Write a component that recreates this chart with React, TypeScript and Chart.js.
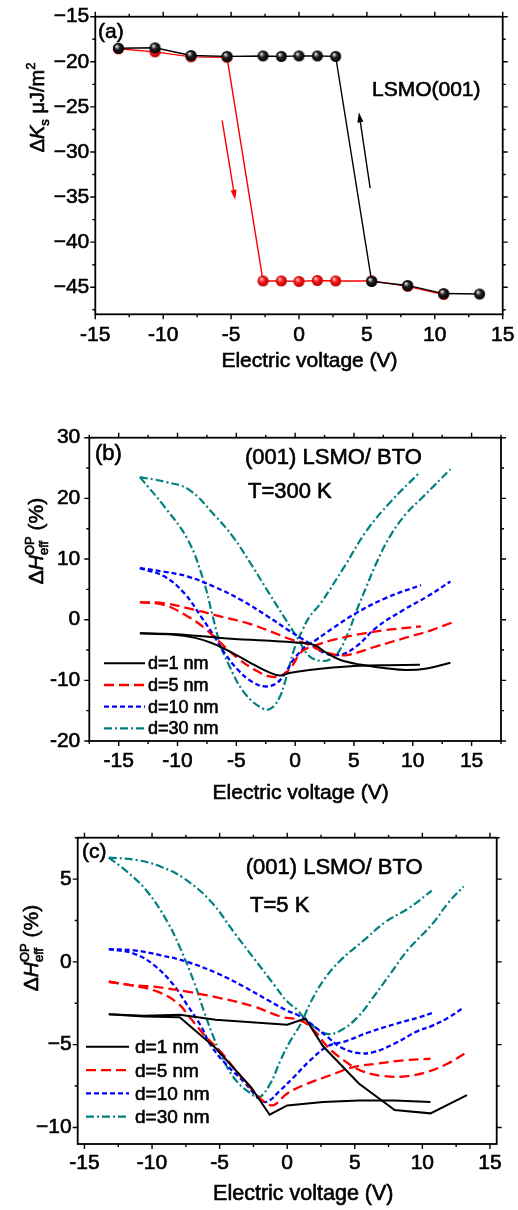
import React, { useEffect, useRef } from 'react';
import { Chart, registerables } from 'chart.js';

Chart.register(...registerables);

const FONT = '"Liberation Sans", Arial, Helvetica, sans-serif';
const W = 518;
const TEXT_STROKE = 0.6;

type Pt = [number, number];

// ---------------- Panel (a): LSMO(001) ----------------
const A_X_TICKS = [-15, -10, -5, 0, 5, 10, 15];
const A_Y_TICKS = [-45, -40, -35, -30, -25, -20, -15];
const A_VOLT_BLACK = [-13.3, -10.6, -7.95, -5.3, -2.65, -1.3, 0, 1.35, 2.7, 5.35, 8.0, 10.65, 13.3];
const A_KS_BLACK = [-18.5, -18.45, -19.3, -19.4, -19.35, -19.4, -19.35, -19.35, -19.4, -44.35, -44.8, -45.7, -45.75];
const A_VOLT_RED = [-13.3, -10.6, -7.95, -5.3, -2.65, -1.3, 0, 1.35, 2.7, 5.35, 8.0, 10.65];
const A_KS_RED = [-18.55, -18.9, -19.45, -19.5, -44.3, -44.3, -44.35, -44.25, -44.3, -44.3, -44.9, -45.8];

// ---------------- Panel (b): T = 300 K ----------------
const B_X_TICKS = [-15, -10, -5, 0, 5, 10, 15];
const B_Y_TICKS = [-20, -10, 0, 10, 20, 30];
const B_D1_A: Pt[] = [[-13.2, -2.25], [-10.5, -2.45], [-8.5, -3.0], [-7.1, -3.85], [-5.7, -5.1], [-4.0, -6.9], [-2.3, -8.6], [-1.3, -9.2], [-0.5, -8.8], [1.2, -8.3], [3.2, -7.9], [5.5, -7.6], [7.8, -7.5], [10.6, -7.45]];
const B_D1_B: Pt[] = [[-13.2, -2.25], [-10.5, -2.35], [-6.3, -3.0], [-2.6, -3.45], [0, -3.75], [1.6, -4.15], [2.6, -5.4], [3.8, -6.6], [5.5, -7.4], [7.7, -8.0], [9.4, -8.3], [11.2, -8.05], [13.2, -7.1]];
const B_D5_A: Pt[] = [[-13.2, 2.9], [-11.1, 2.4], [-9.1, 0.5], [-7.7, -1.4], [-6.3, -3.9], [-4.85, -6.4], [-3.4, -8.3], [-2.1, -9.4], [-1.15, -9.2], [-0.4, -8.0], [0.6, -5.2], [1.8, -4.2], [3.3, -3.3], [6.0, -2.2], [7.75, -1.7], [10.7, -1.1]];
const B_D5_B: Pt[] = [[-13.2, 2.9], [-11.1, 2.7], [-8.5, 1.6], [-6.3, 0.5], [-4.0, -0.6], [-2.0, -2.0], [-0.3, -3.3], [0.9, -3.9], [2.3, -5.2], [3.5, -5.8], [4.5, -5.8], [6.9, -4.4], [9.7, -2.8], [11.5, -1.8], [13.3, -0.5]];
const B_D10_A: Pt[] = [[-13.2, 8.5], [-11.1, 7.1], [-9.4, 4.3], [-8.0, 0.5], [-6.85, -2.8], [-6.0, -5.5], [-4.85, -8.3], [-3.7, -10.2], [-2.6, -11.0], [-1.6, -10.5], [-0.85, -8.8], [-0.15, -6.6], [0.9, -4.4], [1.8, -3.3], [3.2, -1.4], [5.2, 1.1], [7.75, 3.6], [10.7, 5.7]];
const B_D10_B: Pt[] = [[-13.2, 8.5], [-11.1, 7.9], [-9.1, 7.1], [-6.85, 5.4], [-4.55, 3.2], [-2.3, 0.5], [-0.6, -1.7], [1.2, -3.9], [2.5, -5.5], [3.8, -5.8], [5.2, -4.4], [6.9, -1.3], [9.2, 1.6], [11.3, 3.9], [13.2, 6.3]];
const B_D30_A: Pt[] = [[-13.2, 23.5], [-11.1, 18.6], [-9.1, 13.1], [-7.8, 6.5], [-7.0, 0.5], [-6.4, -3.9], [-5.7, -7.2], [-4.3, -12.1], [-2.6, -14.8], [-1.9, -14.4], [-1.3, -12.7], [-0.9, -10.5], [-0.5, -7.7], [0, -4.4], [0.6, -1.8], [1.2, 0.4], [2.2, 2.8], [4.2, 8.8], [6.05, 14.6], [8.1, 19.4], [10.6, 24.3]];
const B_D30_B: Pt[] = [[-13.2, 23.5], [-11.0, 22.7], [-9.0, 21.4], [-6.75, 17.0], [-5.3, 13.7], [-3.6, 8.7], [-2.2, 4.3], [-0.8, 0], [0.2, -3.0], [1.2, -6.0], [2.3, -6.8], [3.2, -6.3], [3.8, -5.0], [4.6, -1.7], [5.2, 1.4], [6.05, 5.4], [6.9, 9.3], [8.05, 13.7], [9.45, 17.5], [10.9, 20.3], [13.2, 24.8]];

// ---------------- Panel (c): T = 5 K ----------------
const C_X_TICKS = [-15, -10, -5, 0, 5, 10, 15];
const C_Y_TICKS = [-10, -5, 0, 5];
const C_D1_A: Pt[] = [[-13.2, -3.16], [-10.6, -3.3], [-7.95, -3.35], [-5.3, -5.2], [-2.65, -7.6], [-1.3, -9.23], [0, -8.67], [2.65, -8.47], [5.3, -8.37], [7.95, -8.37], [10.6, -8.47]];
const C_D1_B: Pt[] = [[-13.2, -3.16], [-10.6, -3.25], [-7.95, -3.2], [-5.3, -3.5], [-2.65, -3.65], [0, -3.8], [1.35, -3.42], [2.65, -5.1], [5.3, -7.35], [7.95, -8.95], [10.6, -9.15], [13.3, -8.05]];
const C_D5_A: Pt[] = [[-13.2, -1.2], [-11.6, -1.4], [-9.6, -1.8], [-8.1, -2.5], [-7.15, -3.4], [-6.15, -4.4], [-4.9, -5.45], [-3.7, -6.65], [-2.45, -7.85], [-1.7, -8.45], [-1.0, -8.65], [0, -7.95], [1.5, -7.35], [3.2, -6.85], [4.9, -6.35], [6.65, -6.15], [8.6, -5.95], [10.6, -5.85]];
const C_D5_B: Pt[] = [[-13.2, -1.2], [-11.6, -1.4], [-9.85, -1.5], [-7.4, -1.8], [-4.9, -2.2], [-2.45, -2.7], [-0.5, -3.3], [1.0, -3.55], [2.0, -4.15], [3.0, -5.15], [4.2, -5.95], [5.4, -6.55], [7.15, -6.9], [8.9, -6.9], [10.35, -6.65], [11.85, -6.15], [13.3, -5.45]];
const C_D10_A: Pt[] = [[-13.2, 0.77], [-11.35, 0.5], [-9.85, -0.2], [-8.4, -1.4], [-7.4, -2.6], [-6.4, -3.85], [-5.65, -5.05], [-4.45, -6.25], [-3.2, -7.25], [-2.1, -8.25], [-1.5, -8.45], [-0.5, -7.75], [0.5, -6.95], [1.7, -5.95], [3.0, -5.1], [4.3, -4.8], [6.05, -4.25], [8.0, -3.75], [9.75, -3.35], [10.7, -3.1]];
const C_D10_B: Pt[] = [[-13.2, 0.77], [-11.35, 0.7], [-9.35, 0.4], [-7.4, 0], [-5.15, -0.7], [-3.2, -1.5], [-1.45, -2.3], [0, -2.95], [0.75, -3.2], [1.7, -3.7], [3.0, -4.55], [3.95, -5.15], [5.2, -5.5], [6.4, -5.45], [7.9, -4.95], [9.6, -4.2], [10.75, -3.85], [11.95, -3.35], [13.0, -2.8]];
const C_D30_A: Pt[] = [[-13.2, 6.3], [-11.85, 5.45], [-10.35, 4.25], [-8.85, 2.4], [-7.9, 0.8], [-6.9, -1.2], [-6.15, -3.0], [-5.4, -4.65], [-4.65, -6.05], [-3.7, -7.25], [-2.7, -7.95], [-2.1, -8.2], [-1.25, -7.35], [-0.5, -5.95], [0.25, -4.75], [1.0, -3.75], [1.7, -2.5], [2.7, -1.1], [3.95, 0.1], [5.6, 1.25], [7.25, 2.4], [9.0, 3.25], [10.7, 4.3]];
const C_D30_B: Pt[] = [[-13.2, 6.3], [-11.1, 6.15], [-9.35, 5.75], [-7.65, 5.05], [-5.65, 3.65], [-3.95, 1.8], [-2.45, 0.2], [-0.95, -1.4], [0, -2.4], [0.75, -2.9], [1.2, -3.35], [1.95, -3.9], [2.95, -4.35], [3.95, -4.15], [5.2, -3.35], [6.4, -2.1], [7.65, -0.7], [8.9, 0.7], [10.75, 2.3], [11.95, 3.6], [13.05, 4.55]];

const LEGEND_LABELS = ['d=1 nm', 'd=5 nm', 'd=10 nm', 'd=30 nm'];
const STYLES = [
  { color: '#000000', width: 2, dash: [] as number[] },
  { color: '#ff0000', width: 2.3, dash: [10, 5] },
  { color: '#0000ff', width: 2.3, dash: [5, 3] },
  { color: '#008080', width: 2.2, dash: [8, 3, 2, 3] },
];

type Seg = { t: string; s: number; i?: boolean; dy?: number; stack?: boolean };
type Txt = { t: string; x: number; y: number; s: number; align?: CanvasTextAlign };

interface AxisSpec { min: number; max: number; ticks: number[]; minor: number; pad: number; fmt: (v: number) => string }
interface PanelSpec {
  top: number; height: number;
  area: { left: number; right: number; top: number; bottom: number };
  x: AxisSpec; y: AxisSpec;
  datasets: any[];
  texts: Txt[];
  yTitle: { segs: Seg[]; x: number; y: number };
  legend?: { x0: number; x1: number; xt: number; y0: number; dy: number; s: number; off: number };
  arrows?: { from: Pt; to: Pt; color: string }[];
}

const fmtHy = (v: number) => String(v);
const fmtMinus = (v: number) => (v < 0 ? '\u2212' + Math.abs(v) : String(v));

function sphere(base: string, light: string, dark: string, r: number) {
  const c = document.createElement('canvas');
  const size = Math.ceil(r * 2) + 2;
  c.width = size; c.height = size;
  const g = c.getContext('2d')!;
  const cx = size / 2, cy = size / 2;
  const grad = g.createRadialGradient(cx - r * 0.35, cy - r * 0.4, r * 0.05, cx, cy, r);
  grad.addColorStop(0, light);
  grad.addColorStop(0.45, base);
  grad.addColorStop(1, dark);
  g.fillStyle = grad;
  g.beginPath(); g.arc(cx, cy, r, 0, Math.PI * 2); g.fill();
  return c;
}

const toXY = (pts: Pt[]) => pts.map(([x, y]) => ({ x, y }));

function loopSets(branches: Pt[][][], tensions: number[]) {
  const out: any[] = [];
  branches.forEach((pair, i) => {
    const st = STYLES[i];
    pair.forEach((pts) => {
      out.push({
        data: toXY(pts), showLine: true, borderColor: st.color, borderWidth: st.width,
        borderDash: st.dash, pointRadius: 0, tension: tensions[i], fill: false,
      });
    });
  });
  return out;
}

function fillStroke(ctx: CanvasRenderingContext2D, t: string, x: number, y: number) {
  ctx.fillText(t, x, y);
  ctx.lineWidth = TEXT_STROKE;
  ctx.strokeStyle = ctx.fillStyle as string;
  ctx.strokeText(t, x, y);
}

function drawRich(ctx: CanvasRenderingContext2D, segs: Seg[], bx: number, cy: number) {
  const items: { sg: Seg; x: number }[] = [];
  let x = 0; let stackW = 0;
  for (const sg of segs) {
    ctx.font = `${sg.i ? 'italic ' : ''}${sg.s}px ${FONT}`;
    const w = ctx.measureText(sg.t).width;
    items.push({ sg, x });
    if (sg.stack) stackW = w; else { x += Math.max(w, stackW); stackW = 0; }
  }
  const total = x;
  ctx.save();
  ctx.translate(bx, cy);
  ctx.rotate(-Math.PI / 2);
  ctx.textAlign = 'left';
  ctx.textBaseline = 'alphabetic';
  ctx.fillStyle = '#000';
  for (const it of items) {
    ctx.font = `${it.sg.i ? 'italic ' : ''}${it.sg.s}px ${FONT}`;
    fillStroke(ctx, it.sg.t, it.x - total / 2, it.sg.dy || 0);
  }
  ctx.restore();
}

function build(canvas: HTMLCanvasElement, p: PanelSpec) {
  const frame = {
    id: 'frame',
    afterDraw(chart: any) {
      const ctx: CanvasRenderingContext2D = chart.ctx;
      const a = chart.chartArea;
      const xs = chart.scales.x, ys = chart.scales.y;
      ctx.save();
      // arrows
      (p.arrows || []).forEach((ar) => {
        const x0 = xs.getPixelForValue(ar.from[0]), y0 = ys.getPixelForValue(ar.from[1]);
        const x1 = xs.getPixelForValue(ar.to[0]), y1 = ys.getPixelForValue(ar.to[1]);
        const ang = Math.atan2(y1 - y0, x1 - x0);
        const hl = 10, hw = 3;
        ctx.strokeStyle = ar.color; ctx.fillStyle = ar.color; ctx.lineWidth = 1.4;
        ctx.beginPath(); ctx.moveTo(x0, y0);
        ctx.lineTo(x1 - Math.cos(ang) * hl * 0.8, y1 - Math.sin(ang) * hl * 0.8); ctx.stroke();
        ctx.beginPath(); ctx.moveTo(x1, y1);
        ctx.lineTo(x1 - Math.cos(ang) * hl - Math.sin(ang) * hw, y1 - Math.sin(ang) * hl + Math.cos(ang) * hw);
        ctx.lineTo(x1 - Math.cos(ang) * hl + Math.sin(ang) * hw, y1 - Math.sin(ang) * hl - Math.cos(ang) * hw);
        ctx.closePath(); ctx.fill();
      });
      // frame
      ctx.strokeStyle = '#000'; ctx.lineWidth = 1.8; ctx.setLineDash([]);
      ctx.strokeRect(a.left, a.top, a.right - a.left, a.bottom - a.top);
      ctx.lineWidth = 1.4;
      ctx.beginPath();
      const each = (ax: AxisSpec, cb: (v: number, len: number) => void) => {
        const start = Math.ceil((ax.min - 1e-9) / ax.minor) * ax.minor;
        for (let v = start; v <= ax.max + 1e-9; v += ax.minor) {
          const major = ax.ticks.some((m) => Math.abs(m - v) < 1e-6);
          cb(v, major ? 5 : 3);
        }
      };
      each(p.x, (v, len) => {
        const px = xs.getPixelForValue(v);
        ctx.moveTo(px, a.bottom); ctx.lineTo(px, a.bottom + len);
        ctx.moveTo(px, a.top); ctx.lineTo(px, a.top - len);
      });
      each(p.y, (v, len) => {
        const py = ys.getPixelForValue(v);
        ctx.moveTo(a.left, py); ctx.lineTo(a.left - len, py);
        ctx.moveTo(a.right, py); ctx.lineTo(a.right + len, py);
      });
      ctx.stroke();
      // legend
      if (p.legend) {
        const L = p.legend;
        LEGEND_LABELS.forEach((lab, i) => {
          const st = STYLES[i];
          const yb = L.y0 + i * L.dy;
          ctx.strokeStyle = st.color; ctx.lineWidth = st.width; ctx.setLineDash(st.dash);
          ctx.beginPath(); ctx.moveTo(L.x0, yb - L.off); ctx.lineTo(L.x1, yb - L.off); ctx.stroke();
          ctx.setLineDash([]);
          ctx.fillStyle = '#000'; ctx.font = `${L.s}px ${FONT}`;
          ctx.textAlign = 'left'; ctx.textBaseline = 'alphabetic';
          fillStroke(ctx, lab, L.xt, yb);
        });
      }
      // texts
      ctx.fillStyle = '#000'; ctx.textBaseline = 'alphabetic';
      p.texts.forEach((t) => {
        ctx.font = `${t.s}px ${FONT}`;
        ctx.textAlign = t.align || 'left';
        fillStroke(ctx, t.t, t.x, t.y);
      });
      drawRich(ctx, p.yTitle.segs, p.yTitle.x, p.yTitle.y);
      ctx.restore();
    },
  };

  const tickFont = { family: FONT, size: 21 };
  const tickCommon = { font: tickFont, color: '#000', textStrokeColor: '#000', textStrokeWidth: TEXT_STROKE, autoSkip: false };
  return new Chart(canvas, {
    type: 'scatter',
    data: { datasets: p.datasets },
    options: {
      animation: false,
      responsive: false,
      devicePixelRatio: 1,
      events: [],
      layout: { padding: { left: 0, right: W - p.area.right, top: p.area.top, bottom: 0 } },
      plugins: { legend: { display: false }, tooltip: { enabled: false }, title: { display: false } },
      scales: {
        x: {
          type: 'linear', min: p.x.min, max: p.x.max,
          grid: { display: false, drawTicks: false }, border: { display: false },
          ticks: { ...tickCommon, padding: p.x.pad, maxRotation: 0, callback: (v: any) => p.x.fmt(Number(v)) },
          afterBuildTicks: (s: any) => { s.ticks = p.x.ticks.map((v) => ({ value: v })); },
          afterFit: (s: any) => { s.height = p.height - p.area.bottom; s.paddingLeft = 0; s.paddingRight = 0; },
        },
        y: {
          type: 'linear', min: p.y.min, max: p.y.max,
          grid: { display: false, drawTicks: false }, border: { display: false },
          ticks: { ...tickCommon, padding: p.y.pad, callback: (v: any) => p.y.fmt(Number(v)) },
          afterBuildTicks: (s: any) => { s.ticks = p.y.ticks.map((v) => ({ value: v })); },
          afterFit: (s: any) => { s.width = p.area.left; s.paddingTop = 0; s.paddingBottom = 0; },
        },
      },
    } as any,
    plugins: [frame],
  });
}

function makePanels(): PanelSpec[] {
  const blackBall = sphere('#222222', '#f4f4f4', '#000000', 5.5);
  const redBall = sphere('#ff1a1a', '#ffd0d0', '#b00000', 5.5);
  const panelA: PanelSpec = {
    top: 0, height: 390,
    area: { left: 95.3, right: 502.7, top: 16.7, bottom: 314.3 },
    x: { min: -15, max: 15, ticks: A_X_TICKS, minor: 2.5, pad: 8, fmt: fmtHy },
    y: { min: -48, max: -15, ticks: A_Y_TICKS, minor: 2.5, pad: 6, fmt: fmtMinus },
    datasets: [
      { data: A_VOLT_BLACK.map((x, i) => ({ x, y: A_KS_BLACK[i] })), showLine: true, borderColor: '#000', borderWidth: 1.4, pointStyle: blackBall, pointRadius: 5.5, tension: 0 },
      { data: A_VOLT_RED.map((x, i) => ({ x, y: A_KS_RED[i] })), showLine: true, borderColor: '#ff0000', borderWidth: 1.4, pointStyle: redBall, pointRadius: 5.5, tension: 0 },
    ],
    texts: [
      { t: '(a)', x: 98, y: 38.3, s: 21 },
      { t: 'LSMO(001)', x: 372, y: 96, s: 21 },
      { t: 'Electric voltage (V)', x: 309.5, y: 366.7, s: 21, align: 'center' },
    ],
    yTitle: { x: 44, y: 107.5, segs: [{ t: '\u0394', s: 20 }, { t: 'K', s: 20, i: true }, { t: 's', s: 13, dy: 5 }, { t: ' \u03bcJ/m', s: 20 }, { t: '2', s: 13, dy: -9 }] },
    arrows: [
      { from: [-5.66, -26.5], to: [-4.7, -35.3], color: '#ff0000' },
      { from: [5.24, -34.0], to: [4.41, -25.6], color: '#000000' },
    ],
  };
  const oB = 390;
  const panelB: PanelSpec = {
    top: oB, height: 415,
    area: { left: 89.3, right: 501, top: 437.7 - oB, bottom: 741 - oB },
    x: { min: -17.5, max: 17.5, ticks: B_X_TICKS, minor: 2.5, pad: 8, fmt: fmtHy },
    y: { min: -20, max: 30, ticks: B_Y_TICKS, minor: 5, pad: 9, fmt: fmtHy },
    datasets: loopSets([[B_D1_A, B_D1_B], [B_D5_A, B_D5_B], [B_D10_A, B_D10_B], [B_D30_A, B_D30_B]], [0.4, 0.4, 0.4, 0.4]),
    texts: [
      { t: '(b)', x: 95, y: 460 - oB, s: 22 },
      { t: '(001) LSMO/ BTO', x: 245, y: 463.5 - oB, s: 22 },
      { t: 'T=300 K', x: 248, y: 497.5 - oB, s: 22 },
      { t: 'Electric voltage (V)', x: 300.7, y: 798.5 - oB, s: 21, align: 'center' },
    ],
    yTitle: { x: 43, y: 541 - oB, segs: [{ t: '\u0394', s: 21 }, { t: 'H', s: 21, i: true }, { t: 'eff', s: 13, dy: 5, stack: true }, { t: 'OP', s: 13, dy: -9 }, { t: ' (%)', s: 21 }] },
    legend: { x0: 104, x1: 145, xt: 148, y0: 669.3 - oB, dy: 21.7, s: 18, off: 6 },
  };
  const oC = 805;
  const panelC: PanelSpec = {
    top: oC, height: 405,
    area: { left: 77.7, right: 496.7, top: 837.7 - oC, bottom: 1144 - oC },
    x: { min: -15.5, max: 15.5, ticks: C_X_TICKS, minor: 2.5, pad: 7, fmt: fmtHy },
    y: { min: -11, max: 7.5, ticks: C_Y_TICKS, minor: 2.5, pad: 6, fmt: fmtMinus },
    datasets: loopSets([[C_D1_A, C_D1_B], [C_D5_A, C_D5_B], [C_D10_A, C_D10_B], [C_D30_A, C_D30_B]], [0, 0.4, 0.4, 0.4]),
    texts: [
      { t: '(c)', x: 82, y: 857.5 - oC, s: 21 },
      { t: '(001) LSMO/ BTO', x: 245.7, y: 874 - oC, s: 22 },
      { t: 'T=5 K', x: 250, y: 911.7 - oC, s: 22 },
      { t: 'Electric voltage (V)', x: 303.3, y: 1200 - oC, s: 21.5, align: 'center' },
    ],
    yTitle: { x: 38, y: 948 - oC, segs: [{ t: '\u0394', s: 21 }, { t: 'H', s: 21, i: true }, { t: 'eff', s: 13, dy: 5, stack: true }, { t: 'OP', s: 13, dy: -9 }, { t: ' (%)', s: 21 }] },
    legend: { x0: 86, x1: 129, xt: 135, y0: 1053.3 - oC, dy: 23.3, s: 19, off: 6.5 },
  };
  return [panelA, panelB, panelC];
}

const LAYOUT = [{ top: 0, height: 390 }, { top: 390, height: 415 }, { top: 805, height: 405 }];

export default function App() {
  const refs = useRef<(HTMLCanvasElement | null)[]>([]);
  useEffect(() => {
    document.body.style.margin = '0';
    const panels = makePanels();
    const charts = panels.map((p, i) => build(refs.current[i]!, p));
    return () => charts.forEach((c) => c.destroy());
  }, []);
  return (
    <div style={{ position: 'relative', width: W, height: 1210, background: '#fff', overflow: 'hidden' }}>
      {LAYOUT.map((l, i) => (
        <canvas
          key={i}
          ref={(el) => { refs.current[i] = el; }}
          width={W}
          height={l.height}
          style={{ position: 'absolute', left: 0, top: l.top, width: W, height: l.height }}
        />
      ))}
    </div>
  );
}
